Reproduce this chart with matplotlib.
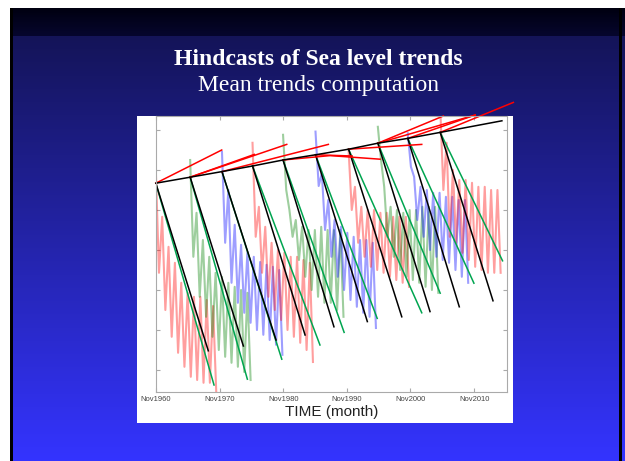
import numpy as np
import matplotlib
matplotlib.use("Agg")
import matplotlib.pyplot as plt
from matplotlib.patches import Rectangle

W, H = 625, 461

# forecast start nodes (year, level) and the mean-trend line end
node_years = [1960.8, 1966.2, 1971.2, 1976.0, 1980.8, 1985.9, 1991.1, 1995.7, 2000.4, 2005.5]
node_vals = [5.67, 5.82, 5.96, 6.10, 6.25, 6.38, 6.52, 6.67, 6.79, 6.94]
trend_end = (2015.2, 7.23)

# descending trend lines from each node
black_end_years = [1969.05, 1974.56, 1979.7, 1984.26, 1988.8, 1994.05, 1999.46, 2003.9, 2008.5, 2013.8]
black_end_vals = [1.48, 1.60, 1.75, 1.875, 2.08, 2.21, 2.33, 2.46, 2.58, 2.73]
green_end_years = [1969.95, 1975.19, 1980.6, 1986.6, 1990.4, 1995.6, 2002.6, 2005.5, 2010.8, 2015.3]
green_end_vals = [0.625, 0.77, 1.27, 1.625, 1.94, 2.29, 2.43, 2.92, 3.17, 3.73]

# red trend lines (start node index, x points after node, y points after node)
red_start = [0, 1, 1, 2, 4, 5, 6, 7, 7, 8, 9]
red_x = [[1971.16], [1976.29], [1981.38], [1987.92], [1988.2, 1996.05], [1991.65],
         [2002.6], [2006.0], [2011.0], [2011.0], [2017.0]]
red_y = [[6.5], [6.39], [6.64], [6.64], [6.36, 6.27], [6.35],
         [6.64], [7.35], [7.375], [7.375], [7.69]]

# hindcast series: yearly peaks and troughs
seg_colors = ["r", "g", "b", "r", "g", "b", "r", "g", "b", "r"]
seg_peaks = [
    [6.0, 4.83, 4.08, 3.68, 3.18, 2.93, 2.83, 2.83, 2.75, 2.6],
    [6.25, 4.93, 4.25, 3.83, 3.43, 3.33, 3.18, 3.08, 3.0, 2.93],
    [6.45, 5.5, 4.63, 4.13, 3.95, 3.83, 3.7, 3.63, 3.58, 3.5],
    [6.68, 5.08, 4.58, 4.18, 4.0, 3.93, 3.83, 3.83, 3.75, 3.68],
    [6.88, 5.0, 4.75, 4.58, 4.5, 4.5, 4.58, 4.5, 4.5, 4.5],
    [6.96, 5.93, 5.25, 4.75, 4.58, 4.43, 4.33, 4.25, 4.25, 4.18],
    [6.5, 5.58, 5.08, 5.0, 5.0, 4.93, 4.93, 4.83, 4.83, 4.83],
    [7.08, 5.58, 5.08, 5.0, 4.93, 5.0, 5.0, 5.08, 5.08, 5.08],
    [6.92, 5.83, 5.58, 5.5, 5.43, 5.43, 5.33, 5.33, 5.25, 5.25],
    [7.6, 6.68, 6.0, 5.75, 5.75, 5.68, 5.58, 5.58, 5.5, 5.5],
]
seg_troughs = [
    [3.43, 2.5, 1.83, 1.43, 1.08, 0.83, 0.75, 0.68, 0.68, 0.45],
    [3.83, 2.83, 2.33, 1.83, 1.5, 1.33, 1.18, 1.08, 0.95, 0.75],
    [4.18, 3.18, 2.68, 2.43, 2.18, 2.0, 1.88, 1.75, 1.63, 1.38],
    [4.33, 3.43, 2.83, 2.5, 2.25, 2.0, 1.83, 1.68, 1.5, 1.2],
    [5.5, 4.33, 3.75, 3.33, 3.0, 2.83, 2.68, 2.68, 2.5, 2.33],
    [5.6, 4.5, 3.83, 3.33, 3.0, 2.75, 2.58, 2.43, 2.33, 2.05],
    [5.0, 4.18, 3.83, 3.58, 3.5, 3.43, 3.33, 3.25, 3.18, 3.08],
    [6.25, 4.33, 3.83, 3.5, 3.33, 3.25, 3.18, 3.08, 3.0, 2.93],
    [6.08, 4.75, 4.33, 4.0, 3.83, 3.75, 3.68, 3.5, 3.33, 3.18],
    [5.5, 4.33, 4.18, 3.93, 3.75, 3.58, 3.5, 3.43, 3.43, 3.43],
]

xtick_years = [1960.83, 1970.83, 1980.83, 1990.83, 2000.83, 2010.83]
xtick_labels = ["Nov1960", "Nov1970", "Nov1980", "Nov1990", "Nov2000", "Nov2010"]


def fig_rect(x0, y0, x1, y1):
    return [x0 / W, 1 - y1 / H, (x1 - x0) / W, (y1 - y0) / H]


fig = plt.figure(figsize=(W / 100, H / 100), dpi=100)
fig.patch.set_facecolor("white")

# slide background
bg = fig.add_axes([0, 0, 1, 1])
grad = np.linspace(0, 1, 256).reshape(-1, 1)
top_c = np.array([20, 20, 88]) / 255
bot_c = np.array([52, 52, 255]) / 255
img = top_c + grad[..., None] * (bot_c - top_c)
bg.imshow(img, extent=[10, W, H, 36], aspect="auto", interpolation="bilinear")
band_top = np.array([0, 0, 16]) / 255
band_bot = np.array([6, 6, 46]) / 255
band = band_top + grad[..., None] * (band_bot - band_top)
bg.imshow(band, extent=[10, W, 36, 8], aspect="auto", interpolation="bilinear")
bg.add_patch(Rectangle((10, 8), 2.5, H - 8, color="black", lw=0))
bg.add_patch(Rectangle((619, 8), 3, H - 8, color="black", lw=0))
bg.add_patch(Rectangle((137, 116), 376, 307, color="white", lw=0))
bg.set_xlim(0, W)
bg.set_ylim(H, 0)
bg.axis("off")

fig.text(318 / W, 1 - 65 / H, "Hindcasts of Sea level trends", color="white",
         fontsize=17, fontweight="bold", family="Liberation Serif", ha="center", va="baseline")
fig.text(318 / W, 1 - 91 / H, "Mean trends computation", color="white",
         fontsize=17, family="Liberation Serif", ha="center", va="baseline")

# chart
ax = fig.add_axes(fig_rect(156, 116, 507, 392))
ax.set_facecolor("white")
for s, c, pk, tr in zip(node_years, seg_colors, seg_peaks, seg_troughs):
    xs, ys = [], []
    for k, (p, t) in enumerate(zip(pk, tr)):
        xs += [s + k, s + k + 0.5]
        ys += [p, t]
    ax.plot(xs, ys, color=c, alpha=0.38, lw=1.5, solid_joinstyle="round")

for i in range(len(node_years)):
    ax.plot([node_years[i], green_end_years[i]], [node_vals[i], green_end_vals[i]],
            color="#00a550", lw=1.1)
    ax.plot([node_years[i], black_end_years[i]], [node_vals[i], black_end_vals[i]],
            color="black", lw=1.1)

for i0, rx, ry in zip(red_start, red_x, red_y):
    ax.plot([node_years[i0]] + rx, [node_vals[i0]] + ry, color="red", lw=1.1, clip_on=False)

ax.plot(node_years + [trend_end[0]], node_vals + [trend_end[1]], color="black", lw=1.1,
        clip_on=False)

ax.set_xlim(1960.83, 2016.0)
ax.set_ylim(0.45, 7.35)
ax.set_xticks(xtick_years)
ax.set_xticklabels(xtick_labels, fontsize=5.5, color="#444444", family="Liberation Sans")
ax.set_yticks([1, 2, 3, 4, 5, 6, 7])
ax.set_yticklabels([])
ax.tick_params(direction="in", length=3, color="#aaaaaa", top=True, right=True, pad=3)
for sp in ax.spines.values():
    sp.set_color("#aaaaaa")
    sp.set_linewidth(0.8)
ax.set_xlabel("TIME (month)", fontsize=11, family="Liberation Sans", color="#222222", labelpad=1)

fig.savefig("out.png", dpi=100)
